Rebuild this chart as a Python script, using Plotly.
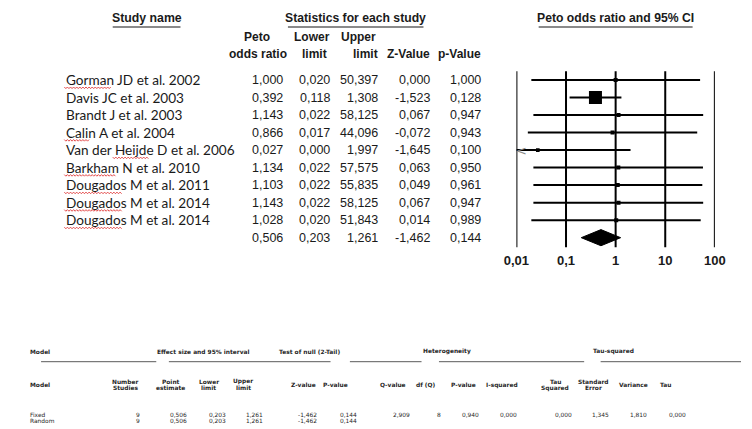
import math
import plotly.graph_objects as go

# ---- study-level data -------------------------------------------------------
studies = [
    "Gorman JD et al. 2002",
    "Davis JC et al. 2003",
    "Brandt J et al. 2003",
    "Calin A et al. 2004",
    "Van der Heijde D et al. 2006",
    "Barkham N et al. 2010",
    "Dougados M et al. 2011",
    "Dougados M et al. 2014",
    "Dougados M et al. 2014",
]
peto_or = [1.000, 0.392, 1.143, 0.866, 0.027, 1.134, 1.103, 1.143, 1.028]
lower = [0.020, 0.118, 0.022, 0.017, 0.000, 0.022, 0.022, 0.022, 0.020]
upper = [50.397, 1.308, 58.125, 44.096, 1.997, 57.575, 55.835, 58.125, 51.843]
z_value = [0.000, -1.523, 0.067, -0.072, -1.645, 0.063, 0.049, 0.067, 0.014]
p_value = [1.000, 0.128, 0.947, 0.943, 0.100, 0.950, 0.961, 0.947, 0.989]

pooled_or = 0.506
pooled_lower = 0.203
pooled_upper = 1.261
pooled_z = -1.462
pooled_p = 0.144

axis_ticks = [0.01, 0.1, 1, 10, 100]
axis_tick_text = ["0,01", "0,1", "1", "10", "100"]

# ---- model summary table ----------------------------------------------------
models = ["Fixed", "Random"]
n_studies = [9, 9]
point_estimate = [0.506, 0.506]
model_lower = [0.203, 0.203]
model_upper = [1.261, 1.261]
model_z = [-1.462, -1.462]
model_p = [0.144, 0.144]
q_value = 2.909
df_q = 8
p_heterogeneity = 0.940
i_squared = 0.000
tau_squared = 0.000
tau_se = 1.345
tau_variance = 1.810
tau = 0.000

# ---- page geometry ----------------------------------------------------------
W, H = 752, 429
ROW0, PITCH = 80.0, 17.52          # pixel y of first study row, row spacing
AX_LEFT, AX_RIGHT = 520, 725        # pixel span of the log axis (0.01 .. 100)

TEXT = "#1a1a1a"
NUM_FONT = "Liberation Sans, Arial, sans-serif"
NAME_FONT = "Lato, Carlito, sans-serif"
SMALL_FONT = "DejaVu Sans, Verdana, sans-serif"


def px(x):
    return x / W


def py(y):
    return 1 - y / H


def fmt(v):
    return f"{v:.3f}".replace(".", ",")


annotations = []
shapes = []


def note(x, y, text, size, family=NUM_FONT, anchor="center", yref="paper",
         color=TEXT, bold=False):
    if bold:
        text = f"<b>{text}</b>"
    annotations.append(dict(
        x=x, y=y, xref="paper", yref=yref, text=text, showarrow=False,
        xanchor=anchor, yanchor="middle", align=anchor,
        font=dict(family=family, size=size, color=color),
    ))


def hline(x0, x1, y, color, width):
    shapes.append(dict(type="line", xref="paper", yref="paper",
                       x0=px(x0), x1=px(x1), y0=py(y), y1=py(y),
                       line=dict(color=color, width=width)))


def squiggle(x0, x1, y, color="#e03a3a"):
    # small zig-zag line, like a spell-checker mark
    pts, x, up = [], x0, True
    while x <= x1:
        pts.append(f"{px(x):.5f},{py(y - (0.8 if up else -0.8)):.5f}")
        x += 1.6
        up = not up
    shapes.append(dict(type="path", xref="paper", yref="paper",
                       path="M" + " L".join(pts),
                       line=dict(color=color, width=0.9)))


# ---- upper table: titles and column headers ---------------------------------
note(px(138), py(18), "Study name", 12.3, bold=True)
note(px(354), py(18), "Statistics for each study", 12.2, bold=True)
note(px(622.5), py(18), "Peto odds ratio and 95% CI", 12.2, bold=True)
hline(103, 173, 27, "#8a8a8a", 2)
hline(284, 424, 27, "#8a8a8a", 2)
hline(543, 702, 27, "#8a8a8a", 2)

note(px(252), py(37), "Peto", 12, bold=True)
note(px(253), py(54.5), "odds ratio", 12, bold=True)
note(px(309), py(37), "Lower", 12, bold=True)
note(px(311), py(54.5), "limit", 12, bold=True)
note(px(377), py(37), "Upper", 12, bold=True, anchor="right")
note(px(379.5), py(54.5), "limit", 12, bold=True, anchor="right")
note(px(432.5), py(54.5), "Z-Value", 12, bold=True, anchor="right")
note(px(486), py(54.5), "p-Value", 12, bold=True, anchor="right")

# ---- upper table: one row per study plus the pooled row ---------------------
col_right = [281, 330, 379.5, 432.5, 486]
rows = list(zip(peto_or, lower, upper, z_value, p_value))
rows.append((pooled_or, pooled_lower, pooled_upper, pooled_z, pooled_p))
for i, vals in enumerate(rows):
    if i < len(studies):
        note(px(53), i, studies[i], 13.6, family=NAME_FONT, anchor="left", yref="y")
    for xr, v in zip(col_right, vals):
        note(px(xr), i, fmt(v), 12.5, anchor="right", yref="y")

# spell-checker marks under author surnames (row, x-start, x-end)
marks = [(0, 53, 102), (3, 53, 80), (4, 103, 140), (5, 53, 107),
         (6, 53, 113), (7, 53, 113), (8, 53, 113)]
for r, a, b in marks:
    squiggle(a, b, ROW0 + r * PITCH + 7.8)

# ---- forest plot ------------------------------------------------------------
lo_clip, hi_clip = axis_ticks[0], axis_ticks[-1]
traces = []

# reference lines at each decade
gx, gy = [], []
for t in axis_ticks:
    gx += [t, t, None]
    gy += [-0.5, 9.55, None]
traces.append(go.Scatter(x=gx, y=gy, mode="lines", line=dict(color="black", width=2),
                         hoverinfo="skip", showlegend=False))

# confidence intervals
cx, cy = [], []
for i, (lo, hi) in enumerate(zip(lower, upper)):
    cx += [max(lo, lo_clip), min(hi, hi_clip), None]
    cy += [i, i, None]
traces.append(go.Scatter(x=cx, y=cy, mode="lines", line=dict(color="black", width=2),
                         hoverinfo="skip", showlegend=False))

# boxes sized by inverse-variance weight (area proportional to weight)
se = [math.log(hi / o) / 1.96 for o, hi in zip(peto_or, upper)]
wts = [1 / s ** 2 for s in se]
wmax = max(wts)
sizes = [13 * math.sqrt(w / wmax) for w in wts]
traces.append(go.Scatter(x=peto_or, y=list(range(len(studies))), mode="markers",
                         marker=dict(symbol="square", size=sizes, color="black",
                                     opacity=1, line=dict(width=0)),
                         hoverinfo="skip", showlegend=False))

# intervals running off the left of the scale get a chevron
for i, lo in enumerate(lower):
    if lo < lo_clip:
        annotations.append(dict(x=math.log10(lo_clip), y=i, xref="x", yref="y",
                                text="<", showarrow=False, xanchor="left", yanchor="middle",
                                xshift=-2, font=dict(family="DejaVu Sans", size=13, color="#8c8c8c")))

# pooled estimate diamond
k = len(studies)
traces.append(go.Scatter(
    x=[pooled_lower, pooled_or, pooled_upper, pooled_or, pooled_lower],
    y=[k, k - 0.46, k, k + 0.46, k],
    mode="lines", fill="toself", fillcolor="black", line=dict(color="black", width=1),
    hoverinfo="skip", showlegend=False))

# ---- lower table: model summary ---------------------------------------------
HS, DS = 5.9, 5.9
SMALL = "#262626"


def small(x, y, text, anchor="center", bold=False):
    note(px(x), py(y), text, HS if bold else DS, family=SMALL_FONT, anchor=anchor,
         color=SMALL, bold=bold)


small(15, 351.7, "Model", "left", True)
small(197, 351.7, "Effect size and 95% interval", bold=True)
small(306, 351.7, "Test of null (2-Tail)", bold=True)
small(448, 351.7, "Heterogeneity", bold=True)
small(620, 351.7, "Tau-squared", bold=True)
for a, b in [(29, 148), (161, 328), (348, 422), (440, 590), (607, 752)]:
    hline(a, b, 361.7, "#5a5a5a", 1)

one_line = [(15, "Model", "left"), (300, "Z-value", "center"), (333, "P-value", "center"),
            (393, "Q-value", "center"), (427, "df (Q)", "center"), (465, "P-value", "center"),
            (505, "I-squared", "center"), (641, "Variance", "center"), (674, "Tau", "center")]
for x, s, a in one_line:
    small(x, 385, s, a, True)
two_line = [(116, "Number", "Studies"), (163, "Point", "estimate"), (202, "Lower", "limit"),
            (238, "Upper", "limit"), (560, "Tau", "Squared"), (600, "Standard", "Error")]
for x, s1, s2 in two_line:
    small(x, 381.7, s1, bold=True)
    small(x, 388.2, s2, bold=True)

model_rows_y = [414.6, 421.1]
for j, m in enumerate(models):
    y = model_rows_y[j]
    small(15, y, m, "left")
    vals = [str(n_studies[j]), fmt(point_estimate[j]), fmt(model_lower[j]),
            fmt(model_upper[j]), fmt(model_z[j]), fmt(model_p[j])]
    for xr, v in zip([133, 182, 222, 260, 316, 357], vals):
        small(xr, y, v, "right")
    if m == "Fixed":
        extra = [fmt(q_value), str(df_q), fmt(p_heterogeneity), fmt(i_squared),
                 fmt(tau_squared), fmt(tau_se), fmt(tau_variance), fmt(tau)]
        for xr, v in zip([412, 444, 483, 523, 579, 618, 657, 697], extra):
            small(xr, y, v, "right")

# ---- figure -----------------------------------------------------------------
fig = go.Figure(traces)
fig.update_layout(
    width=W, height=H, margin=dict(l=0, r=0, t=0, b=0),
    paper_bgcolor="white", plot_bgcolor="white",
    annotations=annotations, shapes=shapes, showlegend=False,
    xaxis=dict(type="log", domain=[px(AX_LEFT), px(AX_RIGHT)],
               range=[math.log10(axis_ticks[0]), math.log10(axis_ticks[-1])],
               anchor="free", position=py(251),
               tickvals=axis_ticks, ticktext=axis_tick_text, ticks="",
               showgrid=False, zeroline=False, showline=False,
               tickfont=dict(family=NUM_FONT, size=13, color=TEXT, weight="bold")),
    yaxis=dict(domain=[0, 1], range=[(H - ROW0) / PITCH, -ROW0 / PITCH],
               visible=False, showgrid=False, zeroline=False),
)
fig.write_html("out.html",
               post_script="document.body.style.margin='0';document.body.style.overflow='hidden';")
